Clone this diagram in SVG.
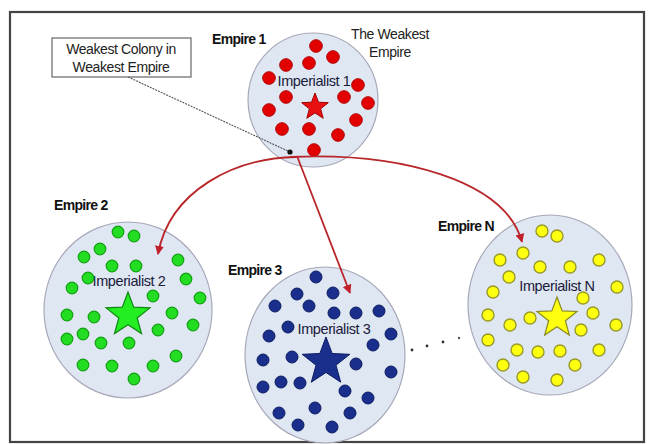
<svg xmlns="http://www.w3.org/2000/svg" width="649" height="444" viewBox="0 0 649 444">
<style>
.lbl{font-family:"Liberation Sans",Arial,sans-serif;font-size:14px;font-weight:bold;fill:#111;letter-spacing:-0.7px}
.imp{font-family:"Liberation Sans",Arial,sans-serif;font-size:14.5px;fill:#1a1a3a;text-anchor:middle;letter-spacing:-0.4px}
.txt{font-family:"Liberation Sans",Arial,sans-serif;font-size:14px;fill:#222;text-anchor:middle;letter-spacing:-0.4px}
.emp{fill:#dfe7f3;stroke:#a8a8b8;stroke-width:1.2}
.r circle{fill:#e30000;stroke:#b00000;stroke-width:1}
.g circle{fill:#22dd22;stroke:#12a012;stroke-width:1.2}
.b circle{fill:#1a2e8c;stroke:#0d1d63;stroke-width:1}
.y circle{fill:#ffff10;stroke:#9a9a28;stroke-width:1.4}
.arr{fill:none;stroke:#b8262a;stroke-width:1.8}
</style>
<defs>
<marker id="ah" viewBox="0 0 10 10" refX="9" refY="5" markerWidth="9" markerHeight="9" markerUnits="userSpaceOnUse" orient="auto">
<path d="M0,0 L10,5 L0,10 Z" fill="#c0202a"/>
</marker>
</defs>
<rect x="0" y="0" width="649" height="444" fill="#fff"/>
<rect x="10" y="12" width="634" height="430" fill="#fff" stroke="#444" stroke-width="2.2"/>

<g id="label-box">
<rect x="52" y="38" width="139" height="39" fill="#fff" stroke="#666" stroke-width="1.2"/>
<text class="txt" x="121" y="54">Weakest Colony in</text>
<text class="txt" x="121" y="72">Weakest Empire</text>
</g>

<g id="empire1">
<ellipse class="emp" cx="313" cy="100" rx="65" ry="67"/>
<text class="lbl" x="212" y="44">Empire 1</text>
<text class="txt" x="390" y="39">The Weakest</text>
<text class="txt" x="390" y="57">Empire</text>
<text class="imp" x="314" y="86">Imperialist 1</text>
<g class="r">
<circle cx="316" cy="46" r="6.3"/><circle cx="333" cy="57" r="6.3"/><circle cx="286" cy="65" r="6.3"/><circle cx="309" cy="63" r="6.3"/><circle cx="269" cy="78" r="6.3"/><circle cx="358" cy="85" r="6.3"/><circle cx="286" cy="97" r="6.3"/><circle cx="344" cy="97" r="6.3"/><circle cx="368" cy="103" r="6.3"/><circle cx="269" cy="110" r="6.3"/><circle cx="356" cy="120" r="6.3"/><circle cx="282" cy="129" r="6.3"/><circle cx="309" cy="129" r="6.3"/><circle cx="338" cy="135" r="6.3"/><circle cx="314" cy="150" r="6.3"/>
</g>
<polygon points="315,93 318.5,102.2 328.3,102.7 320.6,108.8 323.2,118.3 315,112.9 306.8,118.3 309.4,108.8 301.7,102.7 311.5,102.2" fill="#e81010" stroke="#a00000" stroke-width="1"/>
</g>

<g id="empire2">
<ellipse class="emp" cx="128" cy="310" rx="84" ry="88"/>
<text class="lbl" x="54" y="210">Empire 2</text>
<text class="imp" x="129" y="286">Imperialist 2</text>
<g class="g">
<circle cx="118" cy="232" r="5.8"/><circle cx="134" cy="236" r="5.8"/><circle cx="100" cy="249" r="5.8"/><circle cx="84" cy="257" r="5.8"/><circle cx="112" cy="266" r="5.8"/><circle cx="136" cy="266" r="5.8"/><circle cx="178" cy="260" r="5.8"/><circle cx="88" cy="278" r="5.8"/><circle cx="186" cy="279" r="5.8"/><circle cx="72" cy="288" r="5.8"/><circle cx="153" cy="296" r="5.8"/><circle cx="200" cy="298" r="5.8"/><circle cx="67" cy="315" r="5.8"/><circle cx="94" cy="317" r="5.8"/><circle cx="172" cy="313" r="5.8"/><circle cx="193" cy="325" r="5.8"/><circle cx="158" cy="330" r="5.8"/><circle cx="67" cy="339" r="5.8"/><circle cx="83" cy="334" r="5.8"/><circle cx="101" cy="343" r="5.8"/><circle cx="129" cy="343" r="5.8"/><circle cx="83" cy="365" r="5.8"/><circle cx="112" cy="366" r="5.8"/><circle cx="153" cy="366" r="5.8"/><circle cx="176" cy="356" r="5.8"/><circle cx="134" cy="379" r="5.8"/>
</g>
<polygon points="128,292 133.7,307.2 149.9,307.9 137.2,318 141.5,333.6 128,324.7 114.5,333.6 118.8,318 106.1,307.9 122.3,307.2" fill="#22ee22" stroke="#118811" stroke-width="1.2"/>
</g>

<g id="empire3">
<ellipse class="emp" cx="325" cy="355" rx="80" ry="88"/>
<text class="lbl" x="228" y="275">Empire 3</text>
<text class="imp" x="334" y="334">Imperialist 3</text>
<g class="b">
<circle cx="316" cy="277" r="6"/><circle cx="297" cy="294" r="6"/><circle cx="333" cy="293" r="6"/><circle cx="275" cy="306" r="6"/><circle cx="309" cy="306" r="6"/><circle cx="334" cy="313" r="6"/><circle cx="356" cy="313" r="6"/><circle cx="379" cy="311" r="6"/><circle cx="288" cy="327" r="6"/><circle cx="269" cy="336" r="6"/><circle cx="391" cy="334" r="6"/><circle cx="373" cy="345" r="6"/><circle cx="263" cy="360" r="6"/><circle cx="292" cy="357" r="6"/><circle cx="356" cy="364" r="6"/><circle cx="391" cy="372" r="6"/><circle cx="281" cy="382" r="6"/><circle cx="263" cy="387" r="6"/><circle cx="300" cy="383" r="6"/><circle cx="345" cy="391" r="6"/><circle cx="368" cy="398" r="6"/><circle cx="315" cy="408" r="6"/><circle cx="279" cy="413" r="6"/><circle cx="350" cy="413" r="6"/><circle cx="298" cy="425" r="6"/><circle cx="332" cy="427" r="6"/>
</g>
<polygon points="326,337 332.2,353.5 349.8,354.3 336,365.2 340.7,382.2 326,372.5 311.3,382.2 316,365.2 302.2,354.3 319.8,353.5" fill="#1a2e8c" stroke="#0d1d63" stroke-width="1"/>
</g>

<g id="empireN">
<ellipse class="emp" cx="550" cy="305" rx="82" ry="90"/>
<text class="lbl" x="438" y="231">Empire N</text>
<text class="imp" x="557" y="291">Imperialist N</text>
<g class="y">
<circle cx="542" cy="231" r="6"/><circle cx="557" cy="236" r="6"/><circle cx="523" cy="253" r="6"/><circle cx="500" cy="260" r="6"/><circle cx="540" cy="267" r="6"/><circle cx="570" cy="267" r="6"/><circle cx="599" cy="260" r="6"/><circle cx="509" cy="277" r="6"/><circle cx="617" cy="287" r="6"/><circle cx="493" cy="292" r="6"/><circle cx="583" cy="298" r="6"/><circle cx="593" cy="313" r="6"/><circle cx="488" cy="315" r="6"/><circle cx="530" cy="318" r="6"/><circle cx="510" cy="325" r="6"/><circle cx="581" cy="330" r="6"/><circle cx="616" cy="325" r="6"/><circle cx="488" cy="340" r="6"/><circle cx="560" cy="351" r="6"/><circle cx="517" cy="350" r="6"/><circle cx="599" cy="350" r="6"/><circle cx="538" cy="352" r="6"/><circle cx="575" cy="365" r="6"/><circle cx="503" cy="365" r="6"/><circle cx="523" cy="377" r="6"/><circle cx="557" cy="380" r="6"/>
</g>
<polygon points="557,297 562.2,310.9 577,311.5 565.4,320.7 569.3,335 557,326.8 544.7,335 548.6,320.7 537,311.5 551.8,310.9" fill="#ffff10" stroke="#8a8a20" stroke-width="1.2"/>
</g>

<g id="ellipsis">
<circle cx="412" cy="350" r="1.4" fill="#333"/>
<circle cx="427" cy="346" r="1.4" fill="#333"/>
<circle cx="443" cy="342" r="1.4" fill="#333"/>
<circle cx="459" cy="338" r="1.2" fill="#555"/>
</g>

<g id="connectors">
<path d="M128,77 L290,152" fill="none" stroke="#555" stroke-width="1.1" stroke-dasharray="2 1"/>
<circle cx="290" cy="152" r="2.6" fill="#111"/>
<path class="arr" d="M296,157 C235,158 170,190 158,254" marker-end="url(#ah)"/>
<path class="arr" d="M290,157 C400,152 505,180 522,242" marker-end="url(#ah)"/>
<path class="arr" d="M297,156 L350,293" marker-end="url(#ah)"/>
</g>
</svg>
